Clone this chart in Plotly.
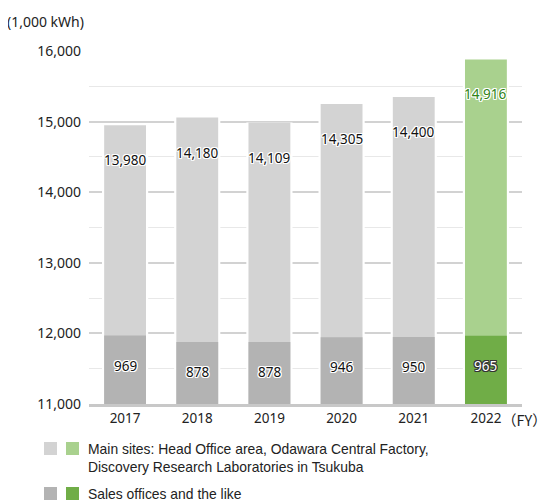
import plotly.graph_objects as go

years = ["2017", "2018", "2019", "2020", "2021", "2022"]
main_sites = [13980, 14180, 14109, 14305, 14400, 14916]
sales_offices = [969, 878, 878, 946, 950, 965]
axis_floor = 11000
y_ticks = [11000, 12000, 13000, 14000, 15000, 16000]

main_colors = ["#d3d3d3"] * 5 + ["#a9d18e"]
sales_colors = ["#b3b3b3"] * 5 + ["#70ad47"]

totals = [m + s for m, s in zip(main_sites, sales_offices)]

# the page shows the figure offset by the body margin (8px)
W, H = 542, 492
L, T, PW, PH = 81, 43, 433, 353


def px(X):  # page pixel -> paper x
    return (X - 8 - L) / PW


def py(Y):  # page pixel -> paper y
    return (T + PH - (Y - 8)) / PH


FONT = "Noto Sans, Noto Sans CJK JP, sans-serif"
HALO_W = "-1px -1px 0 #fff, 1px -1px 0 #fff, -1px 1px 0 #fff, 1px 1px 0 #fff, 0 1px 0 #fff, 0 -1px 0 #fff, 1px 0 0 #fff, -1px 0 0 #fff"
HALO_D = "-1px -1px 0 #333, 1px -1px 0 #333, -1px 1px 0 #333, 1px 1px 0 #333, 0 1px 0 #333, 0 -1px 0 #333, 1px 0 0 #333, -1px 0 0 #333"

fig = go.Figure()
fig.add_trace(go.Bar(x=years, y=[t - axis_floor for t in totals], base=axis_floor,
                     width=0.64, marker=dict(color="white", line=dict(width=0)),
                     hoverinfo="skip", showlegend=False))
fig.add_trace(go.Bar(x=years, y=[t - axis_floor for t in totals], base=axis_floor,
                     width=0.58, marker=dict(color=main_colors, line=dict(width=0)),
                     name="Main sites", showlegend=False))
fig.add_trace(go.Bar(x=years, y=sales_offices, base=axis_floor,
                     width=0.58, marker=dict(color=sales_colors, line=dict(width=0)),
                     name="Sales offices", showlegend=False))

for i, yr in enumerate(years):
    is_last = i == len(years) - 1
    fig.add_annotation(x=i, y=totals[i], yshift=-35, text=f"{main_sites[i]:,}",
                       showarrow=False,
                       font=dict(family=FONT, size=13.5,
                                 color="#2f8416" if is_last else "#111",
                                 shadow=HALO_W))
    fig.add_annotation(x=i, y=axis_floor + sales_offices[i], yshift=-30,
                       text=f"{sales_offices[i]:,}", showarrow=False,
                       font=dict(family=FONT, size=13.5,
                                 color="#fff" if is_last else "#111",
                                 shadow=HALO_D if is_last else HALO_W))

fig.add_annotation(xref="paper", yref="paper", x=px(5), y=py(22), xanchor="left",
                   yanchor="middle", text="(1,000 kWh)", showarrow=False,
                   font=dict(family=FONT, size=14, color="#222"))
fig.add_annotation(xref="paper", yref="paper", x=px(500), y=py(420), xanchor="left",
                   yanchor="middle", text="（FY）", showarrow=False,
                   font=dict(family="Noto Sans CJK JP", size=14.5, color="#222"))

legend_rows = [
    ("Main sites: Head Office area, Odawara Central Factory,<br>Discovery Research Laboratories in Tsukuba",
     main_colors[0], main_colors[-1], 442),
    ("Sales offices and the like", sales_colors[0], sales_colors[-1], 487),
]
for text, c1, c2, top in legend_rows:
    for x0, c in ((44, c1), (66, c2)):
        fig.add_shape(type="rect", xref="paper", yref="paper",
                      x0=px(x0), x1=px(x0 + 13), y0=py(top), y1=py(top + 13),
                      fillcolor=c, line=dict(width=0))
    fig.add_annotation(xref="paper", yref="paper", x=px(86), y=py(top + 6.5),
                       xanchor="left", yanchor="middle" if "<br>" not in text else "top",
                       align="left", yshift=0 if "<br>" not in text else 9.5,
                       text=text, showarrow=False,
                       font=dict(family="Liberation Sans, Arial", size=13.9, color="#222"))

fig.update_layout(
    width=W, height=H, barmode="overlay",
    margin=dict(l=L, r=W - L - PW, t=T, b=H - T - PH, autoexpand=False),
    plot_bgcolor="white", paper_bgcolor="white",
    xaxis=dict(type="category", range=[-0.5, 5.5], showline=True, linecolor="#c8c8c8",
               linewidth=3, ticks="", automargin=False, fixedrange=True,
               tickfont=dict(family=FONT, size=13.5, color="#222")),
    yaxis=dict(range=[axis_floor, 16000], tickvals=y_ticks, automargin=False,
               tickformat=",d", showgrid=True, gridcolor="#d2d2d2", gridwidth=2,
               ticklabelstandoff=7,
               minor=dict(dtick=500, showgrid=True, gridcolor="#e8e8e8", gridwidth=1),
               tickfont=dict(family=FONT, size=14, color="#222"), zeroline=False),
)

fig.write_html("out.html")
